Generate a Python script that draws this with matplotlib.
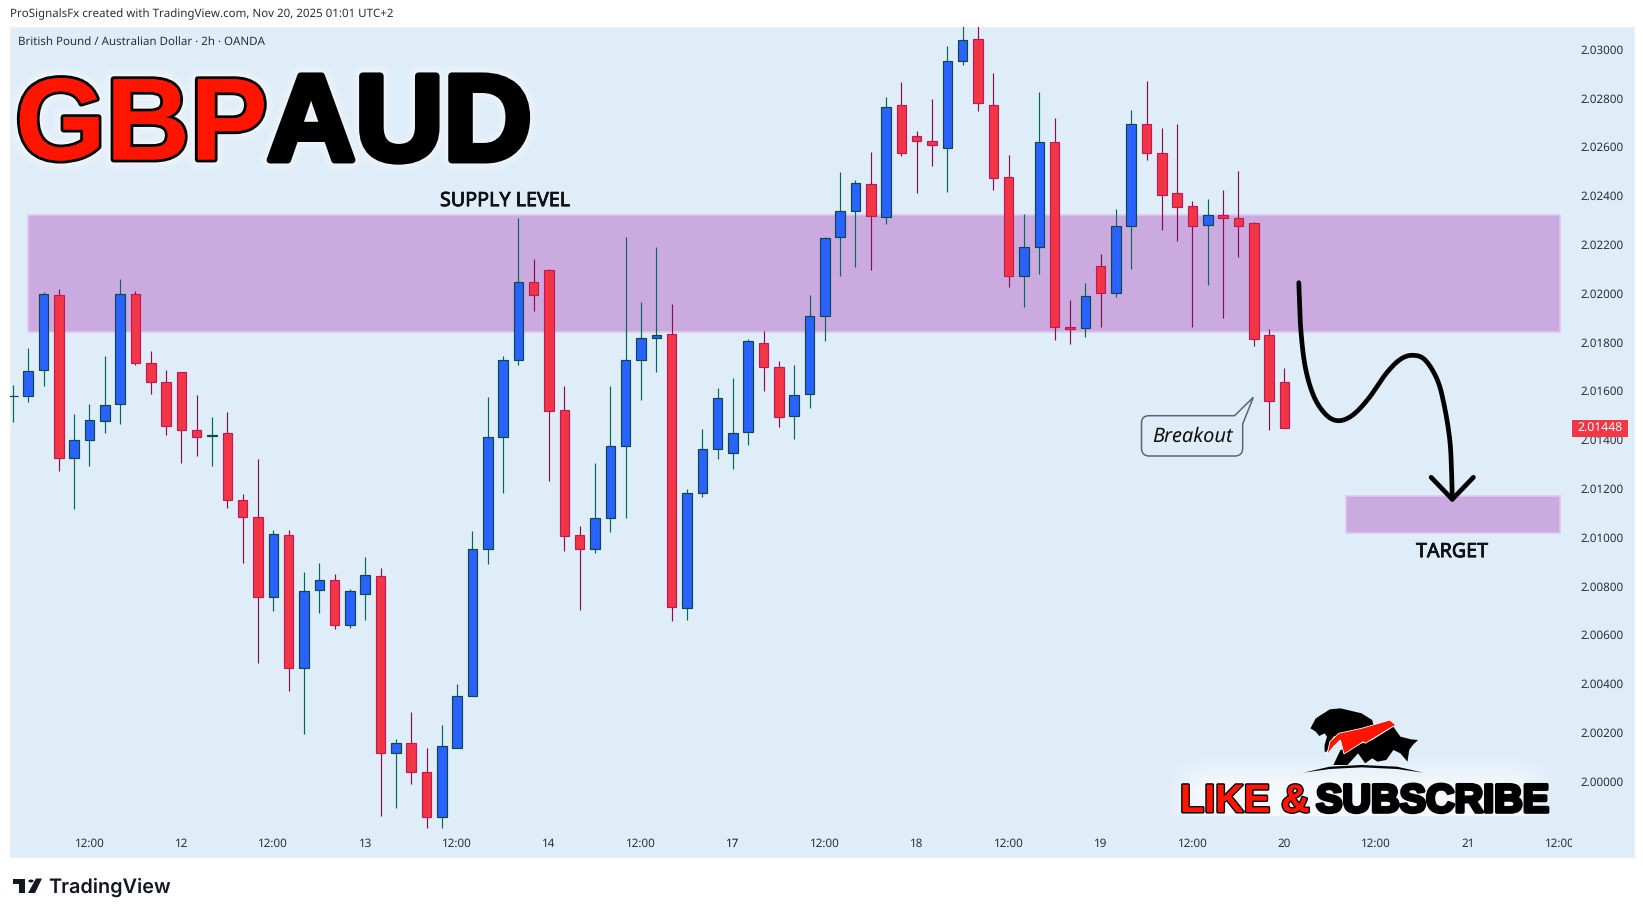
import numpy as np
import matplotlib
matplotlib.use("Agg")
import matplotlib.pyplot as plt
import matplotlib.patheffects as pe
from matplotlib import font_manager
from matplotlib.patches import Rectangle, Polygon, PathPatch, Circle
from matplotlib.path import Path

plt.rcParams["text.hinting"] = "no_hinting"
plt.rcParams["text.hinting_factor"] = 1

W, H = 1643, 916
TEXT_FONT = ["Noto Sans", "DejaVu Sans"]

# ---- data -------------------------------------------------------------
opens = [2.01578,2.01578,2.01684,2.01992,2.01324,2.01397,2.01475,2.01545,2.01996,2.01713,2.01635,2.01676,
         2.01438,2.01414,2.01426,2.01152,2.01082,2.00756,2.01008,2.00466,2.00783,2.00824,2.00639,2.00769,
         2.00840,2.00117,2.00156,2.00037,1.99855,2.00138,2.00351,2.00951,2.01410,2.01728,2.02045,2.02094,
         2.01520,2.01008,2.00951,2.01078,2.01373,2.01725,2.01815,2.01832,2.00709,2.01180,2.01361,2.01344,
         2.01430,2.01795,2.01697,2.01496,2.01586,2.01906,2.02229,2.02336,2.02447,2.02311,2.02770,2.02643,
         2.02623,2.02594,2.02951,2.03041,2.02770,2.02475,2.02069,2.02188,2.02619,2.01862,2.01856,2.02110,
         2.02000,2.02274,2.02692,2.02574,2.02410,2.02356,2.02281,2.02319,2.02307,2.02287,2.01828,2.01635]
highs = [2.01624,2.01774,2.02004,2.02016,2.01504,2.01545,2.01742,2.02057,2.02008,2.01763,2.01686,2.01676,
         2.01582,2.01492,2.01512,2.01177,2.01321,2.01030,2.01030,2.00858,2.00895,2.00850,2.00788,2.00919,
         2.00874,2.00173,2.00284,2.00136,2.00231,2.00399,2.01026,2.01575,2.01743,2.02308,2.02140,2.02099,
         2.01620,2.01046,2.01304,2.01620,2.02231,2.01964,2.02190,2.01956,2.01198,2.01444,2.01612,2.01653,
         2.01813,2.01845,2.01722,2.01706,2.01993,2.02231,2.02497,2.02464,2.02579,2.02804,2.02866,2.02665,
         2.02796,2.03013,2.03100,2.03100,2.02903,2.02567,2.02325,2.02825,2.02718,2.01972,2.02042,2.02161,
         2.02345,2.02751,2.02870,2.02677,2.02694,2.02378,2.02386,2.02423,2.02501,2.02292,2.01854,2.01694]
lows = [2.01474,2.01556,2.01621,2.01273,2.01116,2.01293,2.01429,2.01465,2.01707,2.01588,2.01420,2.01304,
        2.01334,2.01293,2.01121,2.00896,2.00486,2.00699,2.00371,2.00195,2.00691,2.00625,2.00629,2.00662,
        1.99859,1.99892,1.99990,1.99810,1.99810,2.00138,2.00351,2.00892,2.01183,2.01707,2.01929,2.01232,
        2.00945,2.00703,2.00937,2.01023,2.01080,2.01564,2.01679,2.00658,2.00662,2.01166,2.01322,2.01281,
        2.01379,2.01601,2.01453,2.01404,2.01531,2.01806,2.02072,2.02109,2.02097,2.02285,2.02564,2.02412,
        2.02522,2.02416,2.02937,2.02748,2.02424,2.02027,2.01945,2.02080,2.01810,2.01793,2.01822,2.01863,
        2.01986,2.02101,2.02547,2.02260,2.02215,2.01863,2.02035,2.01900,2.02150,2.01785,2.01441,2.01448]
closes = [2.01578,2.01680,2.01996,2.01324,2.01397,2.01479,2.01541,2.01996,2.01713,2.01635,2.01455,2.01438,
          2.01410,2.01420,2.01154,2.01084,2.00756,2.01012,2.00466,2.00779,2.00824,2.00639,2.00779,2.00844,
          2.00117,2.00156,2.00039,1.99855,2.00143,2.00348,2.00951,2.01410,2.01725,2.02045,2.01992,2.01519,
          2.01006,2.00951,2.01078,2.01373,2.01725,2.01815,2.01828,2.00713,2.01180,2.01361,2.01570,2.01426,
          2.01803,2.01697,2.01492,2.01582,2.01906,2.02225,2.02336,2.02451,2.02315,2.02762,2.02574,2.02623,
          2.02606,2.02951,2.03037,2.02778,2.02471,2.02069,2.02188,2.02619,2.01860,2.01855,2.01988,2.02000,
          2.02274,2.02692,2.02574,2.02404,2.02355,2.02277,2.02319,2.02307,2.02277,2.01814,2.01560,2.01448]

x_tick_bars = [5,11,17,23,29,35,41,47,53,59,65,71,77,83,89,95,101]
x_tick_labels = ["12:00","12","12:00","13","12:00","14","12:00","17","12:00","18","12:00","19","12:00","20","12:00","21","12:00"]
y_ticks = [2.000,2.002,2.004,2.006,2.008,2.010,2.012,2.014,2.016,2.018,2.020,2.022,2.024,2.026,2.028,2.030]
last_price = 2.01448
supply_zone = (1.0, 101.0, 2.01840, 2.02319)
target_zone = (87.0, 101.0, 2.01016, 2.01168)

# ---- colours ----------------------------------------------------------
BG = "#DFEDF8"
UP, UP_EDGE, UP_WICK = "#2962FF", "#0B4A4A", "#00695C"
DN, DN_EDGE, DN_WICK = "#F23645", "#C2185B", "#880E4F"
ZONE, ZONE_EDGE = "#CBABDF", "#E2C4F2"

fig = plt.figure(figsize=(W/100, H/100), dpi=100, facecolor="white")

def fx(x): return x / W
def fy(y): return 1 - y / H
def pts(seq): return [(fx(a), fy(b)) for a, b in seq]

fig.patches.append(Rectangle((fx(9.6), fy(856.5)), (1633.5-9.6)/W, (856.5-27)/H, transform=fig.transFigure,
                             facecolor=BG, edgecolor="#EEF0F2", lw=1, zorder=-1))

x0, x1, y0, y1 = 9.6, 1571.5, 27.0, 856.0
ax = fig.add_axes([fx(x0), fy(y1), (x1-x0)/W, (y1-y0)/H], facecolor="none", zorder=1)
ax.set_xlim(-0.214, 101.74)
ax.set_ylim(1.996939, 2.030914)
for s in ax.spines.values():
    s.set_visible(False)

for (a, b, lo, hi) in (supply_zone, target_zone):
    ax.add_patch(Rectangle((a, lo), b-a, hi-lo, facecolor=ZONE, edgecolor=ZONE_EDGE, lw=1.1, zorder=1))

idx = np.arange(len(opens))
o, h, l, c = map(np.array, (opens, highs, lows, closes))
up = c >= o
up[[0, 13]] = True
ax.vlines(idx[up], l[up], h[up], color=UP_WICK, lw=0.85, zorder=2)
ax.vlines(idx[~up], l[~up], h[~up], color=DN_WICK, lw=0.85, zorder=2)
ax.bar(idx[up], np.abs(c-o)[up], bottom=np.minimum(o, c)[up], width=0.62, color=UP, edgecolor=UP_EDGE, lw=0.85, zorder=3)
ax.bar(idx[~up], np.abs(c-o)[~up], bottom=np.minimum(o, c)[~up], width=0.62, color=DN, edgecolor=DN_EDGE, lw=0.85, zorder=3)

ax.set_xticks(x_tick_bars)
ax.set_xticklabels(x_tick_labels, fontsize=8.4, color="#2A2E39", family=TEXT_FONT)
ax.tick_params(axis="x", length=0, direction="in", pad=-13.2)
ax.get_xticklabels()[7].set_fontweight("bold")
ax.get_xticklabels()[7].set_color("#131722")
for t in ax.get_xticklabels():
    t.set_clip_on(True)
    t.set_clip_box(ax.bbox)
ax.yaxis.tick_right()
ax.set_yticks(y_ticks)
ax.set_yticklabels([f"{v:.5f}" for v in y_ticks], fontsize=8.4, color="#2A2E39", family=TEXT_FONT)
ax.tick_params(axis="y", length=0, pad=6.3)

# Header and pane captions
fig.text(fx(10), fy(14.7), "ProSignalsFx created with TradingView.com, Nov 20, 2025 01:01 UTC+2",
         fontsize=8.3, color="#2A2E39", va="center", family=TEXT_FONT)
fig.text(fx(18), fy(41.7), "British Pound / Australian Dollar \u00b7 2h \u00b7 OANDA",
         fontsize=8.3, color="#2A2E39", va="center", family=TEXT_FONT)

# Big title
def glow(colors_lw):
    return [pe.withStroke(linewidth=lw, foreground=col, alpha=al) for lw, col, al in colors_lw]
halo = glow([(16, "white", 0.10), (12, "white", 0.15), (8, "white", 0.25)])
fig.text(fx(15), fy(159.5), "GBP", fontsize=84, fontweight="bold", family="Liberation Sans", color="#FF1500",
         path_effects=halo + [pe.withStroke(linewidth=4.2, foreground="black"), pe.Normal()], zorder=6)
fig.text(fx(267), fy(160), "AUD", fontsize=88, fontweight="bold", family="Liberation Sans", color="black",
         path_effects=halo + [pe.withStroke(linewidth=5, foreground="black"), pe.Normal()], zorder=6)

# Zone captions
caption_fx = [pe.withStroke(linewidth=0.5, foreground="#111111"), pe.Normal()]
fig.text(fx(505), fy(201), "SUPPLY LEVEL", fontsize=14.2, color="#111111", ha="center", va="center", family=TEXT_FONT, path_effects=caption_fx, zorder=6)
fig.text(fx(1452), fy(552), "TARGET", fontsize=14.2, color="#111111", ha="center", va="center", family=TEXT_FONT, path_effects=caption_fx, zorder=6)

# Hand-drawn projection arrow
ctrl = np.array([(1298.8,282.7),(1300.6,326.7),(1305.2,366.7),(1314,396.7),(1326.3,415),(1338.7,420.7),(1352.8,415),
                 (1368.7,398.3),(1386.3,373.3),(1400.4,359.3),(1412.8,355.3),(1425.1,360),(1437.4,380),(1444.5,406.7),
                 (1449.8,440),(1451.5,470),(1452.3,499.3)])
P = np.vstack([ctrl[0], ctrl, ctrl[-1]])
curve = []
for i in range(1, len(P)-2):
    for t in np.linspace(0, 1, 12, endpoint=False):
        curve.append(0.5*((2*P[i]) + (-P[i-1]+P[i+1])*t + (2*P[i-1]-5*P[i]+4*P[i+1]-P[i+2])*t**2 + (-P[i-1]+3*P[i]-3*P[i+1]+P[i+2])*t**3))
curve.append(ctrl[-1])
curve = np.array(curve)
line_kw = dict(color="black", lw=3.4, solid_capstyle="round", solid_joinstyle="round", transform=fig.transFigure, zorder=7)
fig.add_artist(plt.Line2D(curve[:, 0]/W, 1-curve[:, 1]/H, **line_kw))
head = np.array([(1431.1,477.3),(1452.3,499.3),(1473.4,477.3)])
fig.add_artist(plt.Line2D(head[:, 0]/W, 1-head[:, 1]/H, **line_kw))

# Breakout callout (rounded box with a speech tail)
cv = [(Path.MOVETO,(1149,415.7)),(Path.LINETO,(1234.6,415.7)),(Path.LINETO,(1253.3,397.3)),(Path.LINETO,(1242.7,424)),
      (Path.LINETO,(1242.7,448)),(Path.CURVE3,(1242.7,456)),(Path.CURVE3,(1235,456)),(Path.LINETO,(1149,456)),
      (Path.CURVE3,(1141.5,456)),(Path.CURVE3,(1141.5,448)),(Path.LINETO,(1141.5,423)),(Path.CURVE3,(1141.5,415.7)),
      (Path.CURVE3,(1149,415.7)),(Path.CLOSEPOLY,(1149,415.7))]
fig.patches.append(PathPatch(Path(pts([p for _, p in cv]), [k for k, _ in cv]), transform=fig.transFigure,
                             facecolor=BG, edgecolor="#5D6670", lw=1.1, zorder=6))
fig.text(fx(1192), fy(436.5), "Breakout", fontsize=14.4, style="italic", color="#111111", ha="center", va="center", family=TEXT_FONT, zorder=7)

# Last-price tag
fig.patches.append(Rectangle((fx(1572), fy(437)), 56/W, 17/H, transform=fig.transFigure, facecolor=DN, edgecolor="none", zorder=6))
fig.text(fx(1600), fy(428.5), f"{last_price:.5f}", fontsize=8.8, fontweight="bold", color="white", ha="center", va="center", family=TEXT_FONT, zorder=7)

# Like & subscribe soft glow panel
gx0, gx1, gy0, gy1 = 1165, 1555, 752, 816
gh, gw = gy1-gy0, gx1-gx0
rise = np.clip((np.arange(gh)-2)/(gh*0.55), 0, 1)[:, None]
side = np.clip(np.minimum(np.arange(gw), gw-1-np.arange(gw))/40, 0, 1)[None, :]
glow_img = np.ones((gh, gw, 4))
glow_img[..., 3] = 0.72*rise*side
fig.figimage(glow_img, xo=gx0, yo=H-gy1, origin="upper", zorder=5)
narrow = "Liberation Sans Narrow" in font_manager.get_font_names()
like_font = "Liberation Sans Narrow" if narrow else "Liberation Sans"
like_size = 33.5 if narrow else 28.5
fig.text(fx(1180), fy(812), "LIKE &", fontsize=like_size, fontweight="bold", family=like_font, color="#FF1500",
         path_effects=[pe.withStroke(linewidth=2.2, foreground="black"), pe.Normal()], zorder=6)
fig.text(fx(1316), fy(812), "SUBSCRIBE", fontsize=like_size, fontweight="bold", family=like_font, color="black",
         path_effects=[pe.withStroke(linewidth=2.6, foreground="black"), pe.Normal()], zorder=6)

# Bull and bear badge
def zl(seq): return pts([(1090+a/2.835, 450+b/3) for a, b in seq])
bear = [(625,835),(640,805),(680,778),(710,775),(770,790),(800,810),(805,830),(720,850),(690,860),(680,880),(672,905),(665,905),(665,885),(672,860),(665,850),(650,858),(640,845)]
bull = [(690,945),(710,900),(800,870),(860,830),(880,860),(910,868),(930,870),(915,885),(905,900),(900,935),(880,910),(860,900),(840,930),(815,935),(800,925),(780,940),(760,910),(730,945)]
streak = [(672,915),(680,875),(705,850),(770,835),(850,810),(867,825),(850,835),(780,880),(775,875),(720,912),(710,870),(690,890)]
arc = [(605,968),(680,950),(770,945),(870,950),(945,968),(870,957),(770,952),(680,957)]
for shape, col, ec in ((arc, "black", "none"), (bear, "black", "none"), (bull, "black", "none"), (streak, "#FF1500", "white")):
    fig.patches.append(Polygon(zl(shape), closed=True, transform=fig.transFigure, facecolor=col, edgecolor=ec, lw=0.6, zorder=6))

# TradingView logo and wordmark
logo_t = [(12.5,878.5),(24.5,878.5),(24.5,893),(18.5,893),(18.5,883.5),(12.5,883.5)]
logo_s = [(36,878.5),(42,878.5),(35,893),(28,893)]
for shape in (logo_t, logo_s):
    fig.patches.append(Polygon(pts(shape), closed=True, transform=fig.transFigure, facecolor="#131722", edgecolor="none"))
fig.patches.append(Circle((fx(31), fy(881)), 2.6/W, transform=fig.transFigure, facecolor="#131722", edgecolor="none"))
fig.text(fx(48.5), fy(887), "TradingView", fontsize=14.3, fontweight="semibold", color="#131722", va="center", family=["Inter", "DejaVu Sans"])

fig.savefig("out.png", dpi=100)
